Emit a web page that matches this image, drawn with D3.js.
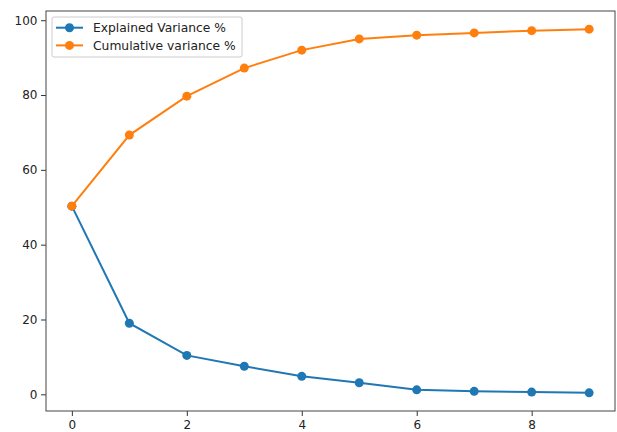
<!DOCTYPE html>
<html>
<head>
<meta charset="utf-8">
<script src="https://cdn.jsdelivr.net/npm/d3@7"></script>
<style>
  body { margin: 0; background: #fff; }
  text { font-family: "DejaVu Sans", sans-serif; }
</style>
</head>
<body>
<div id="chart"></div>
<script>
// data
const components = [0, 1, 2, 3, 4, 5, 6, 7, 8, 9];
const explained = [50.3, 19.0, 10.4, 7.5, 4.8, 3.1, 1.2, 0.8, 0.6, 0.4];
const cumulative = [50.3, 69.3, 79.7, 87.2, 92.0, 95.0, 96.0, 96.6, 97.2, 97.6];
const seriesNames = ["Explained Variance %", "Cumulative variance %"];
const xTicks = [0, 2, 4, 6, 8];
const yTicks = [0, 20, 40, 60, 80, 100];

const width = 617, height = 432;
const plotLeft = 46, plotRight = 615, plotTop = 11, plotBottom = 411;
const colors = ["#1f77b4", "#ff7f0e"];

const svg = d3.select("#chart").append("svg")
  .attr("width", width)
  .attr("height", height);

// matplotlib style 5% margins
const xMin = d3.min(components), xMax = d3.max(components);
const xPad = (xMax - xMin) * 0.05;
const allY = explained.concat(cumulative);
const yMin = d3.min(allY), yMax = d3.max(allY);
const yPad = (yMax - yMin) * 0.05;

const x = d3.scaleLinear().domain([xMin - xPad, xMax + xPad]).range([plotLeft, plotRight]);
const y = d3.scaleLinear().domain([yMin - yPad, yMax + yPad]).range([plotBottom, plotTop]);

// axes
const xAxis = svg.append("g")
  .attr("transform", "translate(0," + plotBottom + ")")
  .call(d3.axisBottom(x).tickValues(xTicks).tickSize(5).tickPadding(4.5).tickFormat(d3.format("d")));
const yAxis = svg.append("g")
  .attr("transform", "translate(" + plotLeft + ",0)")
  .call(d3.axisLeft(y).tickValues(yTicks).tickSize(5).tickPadding(3.5).tickFormat(d3.format("d")));

[xAxis, yAxis].forEach(function (a) {
  a.select(".domain").remove();
  a.selectAll("line").attr("stroke", "#333");
  a.selectAll("text").attr("fill", "#222").style("font-size", "12px");
});

// frame
svg.append("rect")
  .attr("x", plotLeft).attr("y", plotTop)
  .attr("width", plotRight - plotLeft).attr("height", plotBottom - plotTop)
  .attr("fill", "none").attr("stroke", "#444").attr("stroke-width", 1);

const line = d3.line()
  .x(function (d, i) { return x(components[i]); })
  .y(function (d) { return y(d); });

[explained, cumulative].forEach(function (vals, k) {
  svg.append("path")
    .datum(vals)
    .attr("d", line)
    .attr("fill", "none")
    .attr("stroke", colors[k])
    .attr("stroke-width", 2);
  svg.selectAll(".pt" + k)
    .data(vals)
    .enter().append("circle")
    .attr("class", "pt" + k)
    .attr("cx", function (d, i) { return x(components[i]); })
    .attr("cy", function (d) { return y(d); })
    .attr("r", 4.5)
    .attr("fill", colors[k]);
});

// legend
const legend = svg.append("g").attr("transform", "translate(52,17)");
legend.append("rect")
  .attr("width", 190).attr("height", 40)
  .attr("rx", 2)
  .attr("fill", "#fff").attr("fill-opacity", 0.8)
  .attr("stroke", "#ccc");
seriesNames.forEach(function (name, k) {
  const g = legend.append("g").attr("transform", "translate(0," + (10.7 + k * 17.7) + ")");
  g.append("line").attr("x1", 4).attr("x2", 31).attr("stroke", colors[k]).attr("stroke-width", 2);
  g.append("circle").attr("cx", 17.5).attr("r", 4.5).attr("fill", colors[k]);
  g.append("text").attr("x", 41).attr("dy", "0.35em")
    .attr("fill", "#222").style("font-size", "12.3px").text(name);
});
</script>
</body>
</html>
